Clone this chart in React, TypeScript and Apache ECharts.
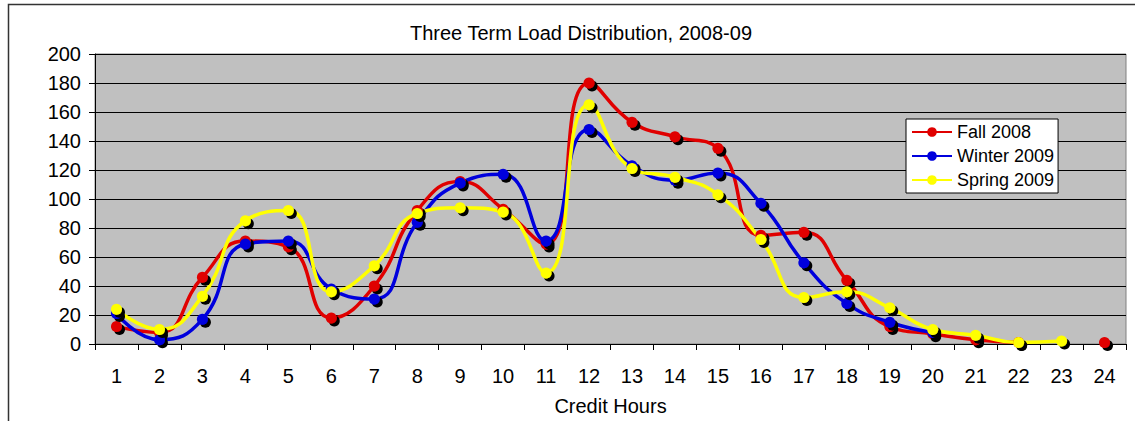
import React, { useEffect, useRef } from "react";
import * as echarts from "echarts";

const creditHours = ["1","2","3","4","5","6","7","8","9","10","11","12","13","14","15","16","17","18","19","20","21","22","23","24"];
const fall2008 = [12, 8, 46, 71, 67, 18, 40, 92, 112, 93, 69, 180, 153, 143, 135, 75, 77, 44, 12, 7, 3, 1, null, 1];
const winter2009 = [21, 3, 17, 69, 71, 38, 31, 84, 111, 117, 71, 148, 123, 113, 118, 97, 56, 28, 15, 8, null, null, null, null];
const spring2009 = [24, 10, 33, 85, 92, 36, 54, 90, 94, 91, 49, 165, 121, 115, 103, 72, 32, 36, 25, 10, 6, 1, 2, null];
const yTicks = [0, 20, 40, 60, 80, 100, 120, 140, 160, 180, 200];

const FONT = "'Liberation Sans', Arial, sans-serif";

export default function App() {
  const ref = useRef<HTMLDivElement>(null);
  useEffect(() => {
    document.body.style.margin = "0";
    const chart = echarts.init(ref.current!, null, { renderer: "svg" });
    const mk = (name: string, data: (number | null)[], color: string) => ({
      name,
      type: "line",
      data,
      smooth: 0.5,
      connectNulls: false,
      symbol: "circle",
      symbolSize: 11,
      lineStyle: { color, width: 3.5 },
      itemStyle: {
        color,
        shadowColor: "#000",
        shadowBlur: 0,
        shadowOffsetX: 3,
        shadowOffsetY: 3,
      },
    });
    chart.setOption({
      animation: false,
      backgroundColor: "#fff",
      title: {
        text: "Three Term Load Distribution, 2008-09",
        left: 576,
        top: 18,
        textAlign: "center",
        textStyle: { fontFamily: FONT, fontSize: 20, fontWeight: "normal", color: "#000" },
      },
      graphic: [
        {
          type: "rect",
          shape: { x: 8.5, y: 4.5, width: 1140, height: 440 },
          style: { fill: "none", stroke: "#333", lineWidth: 1.5 },
          z: -10,
        },
      ],
      legend: {
        orient: "vertical",
        left: 906,
        top: 119,
        backgroundColor: "#fff",
        borderColor: "#000",
        borderWidth: 1,
        borderRadius: 0,
        padding: [4, 4, 4, 5],
        itemGap: 6,
        itemWidth: 40,
        itemHeight: 12,
        textStyle: { fontFamily: FONT, fontSize: 18, color: "#000" },
        data: ["Fall 2008", "Winter 2009", "Spring 2009"],
      },
      grid: {
        left: 95,
        right: 9,
        top: 54,
        bottom: 76,
        show: true,
        backgroundColor: "#C0C0C0",
        borderColor: "#808080",
        borderWidth: 1,
      },
      xAxis: {
        type: "category",
        data: creditHours,
        boundaryGap: true,
        name: "Credit Hours",
        nameLocation: "middle",
        nameGap: 52,
        nameTextStyle: { fontFamily: FONT, fontSize: 20, color: "#000" },
        axisLine: { lineStyle: { color: "#000", width: 1 } },
        axisTick: { show: true, length: 6, lineStyle: { color: "#000" } },
        axisLabel: { fontFamily: FONT, fontSize: 20, color: "#000", margin: 22, interval: 0 },
        splitLine: { show: false },
      },
      yAxis: {
        type: "value",
        min: yTicks[0],
        max: yTicks[yTicks.length - 1],
        interval: 20,
        axisLine: { show: true, lineStyle: { color: "#000", width: 1 } },
        axisTick: { show: true, length: 6, lineStyle: { color: "#000" } },
        axisLabel: { fontFamily: FONT, fontSize: 20, color: "#000", margin: 14 },
        splitLine: { show: true, lineStyle: { color: "#000", width: 1 } },
      },
      series: [
        mk("Fall 2008", fall2008, "#E00000"),
        mk("Winter 2009", winter2009, "#0000DD"),
        mk("Spring 2009", spring2009, "#FFFF00"),
      ],
    });
    return () => chart.dispose();
  }, []);
  return <div ref={ref} style={{ width: 1135, height: 421 }} />;
}
